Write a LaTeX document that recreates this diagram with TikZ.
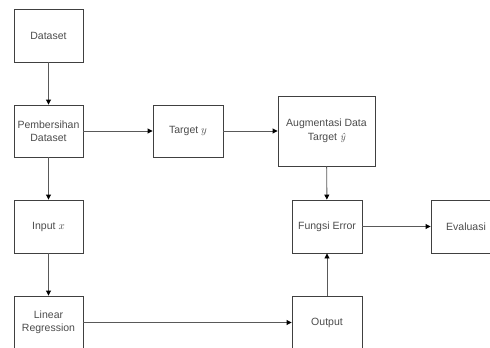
\documentclass[tikz,border=0pt]{standalone}
\usepackage{fontspec}
\setmainfont{Liberation Sans}
\newfontfamily\lmrfont{Latin Modern Roman}
\usetikzlibrary{arrows.meta}
\begin{document}
\begin{tikzpicture}[x=1pt,y=-1pt,
  box/.style={draw=black!75, line width=0.9pt, fill=white, text=black!70,
    font=\fontsize{10.5}{13}\selectfont, align=center, inner sep=1pt},
  conn/.style={draw=black!65, line width=0.9pt,
    -{Triangle[length=5pt,width=5pt,color=black]}}]
\useasboundingbox (0,0) rectangle (490,348);
\node[box, minimum width=69pt, minimum height=53pt] (ds) at (48.5,35.5) {Dataset};
\node[box, minimum width=69pt, minimum height=52pt] (pb) at (48.5,131) {Pembersihan\\Dataset};
\node[box, minimum width=70pt, minimum height=52pt] (tg) at (188,131) {Target $y$};
\node[box, minimum width=97pt, minimum height=70pt] (au) at (326.5,131) {Augmentasi Data\\[1pt]Target {\lmrfont\itshape ŷ}};
\node[box, minimum width=69pt, minimum height=53pt] (in) at (48.5,226.5) {Input $x$};
\node[box, minimum width=69pt, minimum height=53pt] (lr) at (48.5,322.5) {Linear\\Regression};
\node[box, minimum width=70pt, minimum height=53pt] (fe) at (327,226.5) {Fungsi Error};
\node[box, minimum width=70pt, minimum height=53pt] (ev) at (466,226.5) {Evaluasi};
\node[box, minimum width=70pt, minimum height=53pt] (op) at (327,322.5) {Output};
\draw[conn] (ds) -- (pb);
\draw[conn] (pb) -- (tg);
\draw[conn] (tg) -- (au);
\draw[conn] (pb) -- (in);
\draw[conn] (in) -- (lr);
\draw[conn] (lr) -- (op);
\draw[conn] (op) -- (fe);
\draw[conn] (au) -- (fe);
\draw[conn] (fe) -- (ev);
\end{tikzpicture}
\end{document}
